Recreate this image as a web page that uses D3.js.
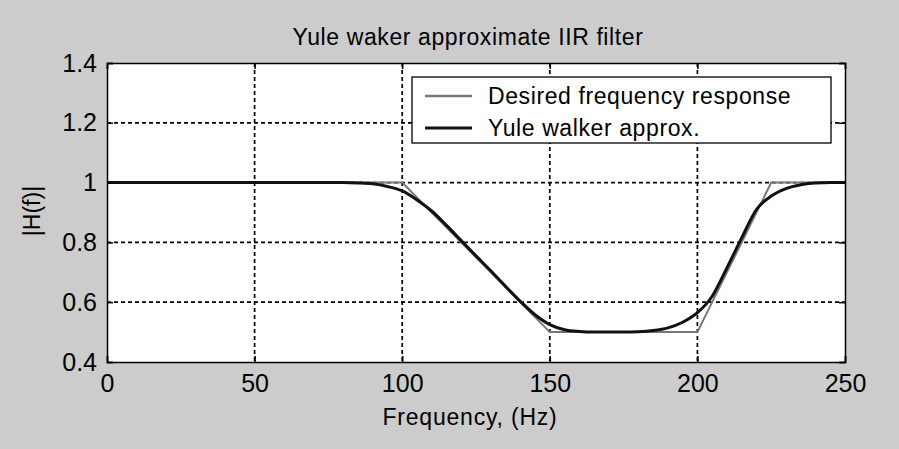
<!DOCTYPE html>
<html lang="en">
<head>
    <meta charset="UTF-8">
    <title>Yule walker</title>
    <script src="https://d3js.org/d3.v7.min.js"></script>
    <style>
        body { margin: 0; background: #cccccc; }
        text { font-family: "Liberation Sans", Arial, sans-serif; fill: #000; }
    </style>
</head>
<body>
    <div id="chart-container"></div>
    <script>
        // desired response (piecewise linear)
        const desiredFreq = [0, 100, 150, 200, 225, 250];
        const desiredMag = [1, 1, 0.5, 0.5, 1, 1];

        // yule walker approximation
        const yuleFreq = [0, 20, 40, 60, 80, 85, 90, 95, 100, 105, 110, 115, 120, 125, 130, 135, 140, 145, 150, 155,
            160, 165, 170, 175, 180, 185, 190, 195, 200, 205, 210, 215, 220, 225, 230, 235, 240, 245, 250];
        const yuleMag = [1, 1, 1, 1, 1, 0.999, 0.996, 0.987, 0.972, 0.942, 0.905, 0.857, 0.806, 0.755, 0.705, 0.653, 0.603, 0.558, 0.525, 0.508,
            0.502, 0.5, 0.5, 0.5, 0.501, 0.505, 0.514, 0.533, 0.565, 0.62, 0.715, 0.815, 0.91, 0.955, 0.98, 0.993, 0.999, 1, 1];

        const xTicks = [0, 50, 100, 150, 200, 250];
        const yTicks = [0.4, 0.6, 0.8, 1, 1.2, 1.4];
        const legendLabels = ["Desired frequency response", "Yule walker approx."];

        const width = 899, height = 449;
        const margin = { top: 63, right: 54, bottom: 87, left: 107 };
        const w = width - margin.left - margin.right;
        const h = height - margin.top - margin.bottom;

        const svg = d3.select("#chart-container")
            .append("svg")
            .attr("width", width)
            .attr("height", height)
            .style("display", "block");

        svg.append("rect").attr("width", width).attr("height", height).attr("fill", "#cccccc");

        const g = svg.append("g").attr("transform", `translate(${margin.left},${margin.top})`);

        const x = d3.scaleLinear().domain([0, 250]).range([0, w]);
        const y = d3.scaleLinear().domain([0.4, 1.4]).range([h, 0]);

        g.append("rect").attr("width", w).attr("height", h).attr("fill", "#fff");

        // grid
        g.selectAll(".vgrid")
            .data(xTicks.slice(1, -1))
            .enter().append("line")
            .attr("x1", d => x(d)).attr("x2", d => x(d))
            .attr("y1", 0).attr("y2", h)
            .attr("stroke", "#000").attr("stroke-width", 1.7)
            .attr("stroke-dasharray", "4,3");
        g.selectAll(".hgrid")
            .data(yTicks.slice(1, -1))
            .enter().append("line")
            .attr("x1", 0).attr("x2", w)
            .attr("y1", d => y(d)).attr("y2", d => y(d))
            .attr("stroke", "#000").attr("stroke-width", 1.7)
            .attr("stroke-dasharray", "4,3");

        const line = d3.line().x(d => x(d[0])).y(d => y(d[1]));

        g.append("path")
            .datum(d3.zip(desiredFreq, desiredMag))
            .attr("d", line)
            .attr("fill", "none")
            .attr("stroke", "#777")
            .attr("stroke-width", 2);

        g.append("path")
            .datum(d3.zip(yuleFreq, yuleMag))
            .attr("d", line.curve(d3.curveMonotoneX))
            .attr("fill", "none")
            .attr("stroke", "#111")
            .attr("stroke-width", 3);

        // axes with inward ticks on all four sides
        const tickLen = 6;
        const fmt = d => d3.format("")(+d.toFixed(1));
        const xAxisB = d3.axisBottom(x).tickValues(xTicks).tickSize(-tickLen).tickPadding(12).tickFormat(fmt);
        const xAxisT = d3.axisTop(x).tickValues(xTicks).tickSize(-tickLen).tickFormat("");
        const yAxisL = d3.axisLeft(y).tickValues(yTicks).tickSize(-tickLen).tickPadding(10).tickFormat(fmt);
        const yAxisR = d3.axisRight(y).tickValues(yTicks).tickSize(-tickLen).tickFormat("");

        const axes = [
            g.append("g").attr("transform", `translate(0,${h})`).call(xAxisB),
            g.append("g").call(xAxisT),
            g.append("g").call(yAxisL),
            g.append("g").attr("transform", `translate(${w},0)`).call(yAxisR)
        ];
        axes.forEach(a => {
            a.select(".domain").attr("stroke", "#000").attr("stroke-width", 1.5);
            a.selectAll(".tick line").attr("stroke", "#000").attr("stroke-width", 1.5);
            a.selectAll("text")
                .style("font-family", '"Liberation Sans", Arial, sans-serif')
                .style("font-size", "25px")
                .attr("fill", "#000");
        });

        // legend
        const lg = svg.append("g").attr("transform", "translate(412,77)");
        lg.append("rect")
            .attr("width", 419).attr("height", 66)
            .attr("fill", "#fff").attr("stroke", "#000").attr("stroke-width", 1.3);
        const legendColors = ["#777", "#111"];
        const legendWidths = [2.5, 3];
        legendLabels.forEach((lab, i) => {
            const yy = 19 + i * 32;
            lg.append("line")
                .attr("x1", 13).attr("x2", 60)
                .attr("y1", yy).attr("y2", yy)
                .attr("stroke", legendColors[i]).attr("stroke-width", legendWidths[i]);
            lg.append("text")
                .attr("x", 76).attr("y", yy)
                .attr("dy", "0.36em")
                .style("font-size", "23px")
                .style("letter-spacing", "0.6px")
                .text(lab);
        });

        // title and labels
        svg.append("text")
            .attr("x", margin.left + w / 2 - 8).attr("y", 45)
            .attr("text-anchor", "middle")
            .style("font-size", "23px")
            .style("letter-spacing", "0.6px")
            .text("Yule waker approximate IIR filter");

        svg.append("text")
            .attr("x", margin.left + w / 2 - 6).attr("y", 425)
            .attr("text-anchor", "middle")
            .style("font-size", "23px")
            .style("letter-spacing", "0.8px")
            .text("Frequency, (Hz)");

        svg.append("text")
            .attr("transform", "translate(40,211) rotate(-90)")
            .attr("text-anchor", "middle")
            .style("font-size", "23px")
            .text("|H(f)|");
    </script>
</body>
</html>
